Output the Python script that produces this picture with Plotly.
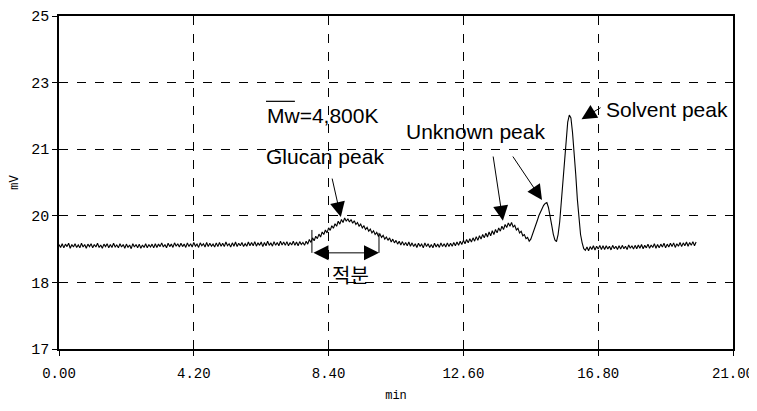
import numpy as np
import plotly.graph_objects as go

# ---- data ----
t_start = 0.0
t_step = 0.05  # min between samples

signal_mv = [
    # 0-1 min
    19.51,19.44,19.53,19.43,19.52,19.46,19.54,19.42,19.51,19.45,19.53,19.44,19.50,19.43,19.54,19.45,19.51,19.42,19.52,19.46,
    # 1-2
    19.53,19.43,19.51,19.45,19.54,19.44,19.50,19.42,19.52,19.46,19.53,19.43,19.51,19.44,19.54,19.45,19.50,19.43,19.53,19.45,
    # 2-3
    19.51,19.42,19.52,19.44,19.50,19.41,19.53,19.45,19.51,19.43,19.52,19.42,19.50,19.44,19.53,19.43,19.51,19.45,19.52,19.43,
    # 3-4
    19.53,19.44,19.52,19.46,19.55,19.45,19.51,19.43,19.54,19.46,19.52,19.44,19.55,19.47,19.53,19.45,19.54,19.46,19.52,19.44,
    # 4-5
    19.55,19.46,19.53,19.45,19.56,19.47,19.52,19.44,19.55,19.48,19.53,19.45,19.56,19.46,19.54,19.47,19.52,19.45,19.55,19.46,
    # 5-6
    19.56,19.47,19.54,19.46,19.57,19.48,19.53,19.45,19.55,19.47,19.57,19.46,19.54,19.48,19.56,19.46,19.53,19.47,19.57,19.48,
    # 6-7
    19.56,19.48,19.58,19.47,19.55,19.49,19.57,19.46,19.56,19.48,19.59,19.49,19.55,19.47,19.58,19.49,19.56,19.48,19.59,19.50,
    # 7-8
    19.57,19.49,19.58,19.48,19.56,19.50,19.59,19.49,19.57,19.48,19.58,19.51,19.56,19.49,19.59,19.52,19.63,19.56,19.67,19.60,
    # 8-9 (glucan peak)
    19.71,19.65,19.76,19.69,19.81,19.75,19.86,19.79,19.91,19.85,19.96,19.90,20.01,19.95,20.07,20.00,20.11,20.04,20.15,20.07,
    # 9-10
    20.13,20.05,20.11,20.02,20.08,19.99,20.04,19.95,20.00,19.91,19.96,19.87,19.92,19.83,19.88,19.79,19.84,19.75,19.80,19.71,
    # 10-11
    19.76,19.68,19.73,19.64,19.69,19.61,19.67,19.57,19.64,19.55,19.61,19.52,19.59,19.50,19.58,19.49,19.56,19.48,19.57,19.47,
    # 11-12
    19.55,19.46,19.53,19.44,19.54,19.47,19.52,19.43,19.55,19.46,19.53,19.44,19.51,19.43,19.54,19.45,19.52,19.44,19.55,19.46,
    # 12-13
    19.53,19.45,19.55,19.46,19.54,19.47,19.56,19.48,19.57,19.49,19.59,19.51,19.61,19.53,19.63,19.55,19.65,19.57,19.67,19.59,
    # 13-14
    19.70,19.61,19.72,19.64,19.75,19.67,19.78,19.69,19.81,19.72,19.84,19.75,19.87,19.79,19.91,19.83,19.95,19.87,19.99,19.92,
    # 14-15 (unknown peaks)
    20.03,19.95,20.04,19.93,19.97,19.86,19.90,19.79,19.83,19.72,19.75,19.65,19.68,19.59,19.64,19.74,19.86,19.97,20.08,20.20,
    # 15-16 (solvent peak)
    20.30,20.38,20.45,20.50,20.52,20.40,20.22,19.98,19.76,19.62,19.58,19.75,20.05,20.50,21.00,21.55,22.05,22.45,22.62,22.55,
    # 16-17
    22.20,21.78,21.20,20.60,20.10,19.75,19.55,19.41,19.37,19.45,19.36,19.46,19.39,19.48,19.38,19.47,19.40,19.49,19.39,19.48,
    # 17-18
    19.39,19.48,19.40,19.47,19.38,19.49,19.41,19.47,19.39,19.48,19.40,19.49,19.41,19.47,19.39,19.50,19.42,19.48,19.40,19.49,
    # 18-19
    19.41,19.50,19.42,19.51,19.41,19.49,19.43,19.52,19.42,19.50,19.44,19.53,19.42,19.51,19.43,19.52,19.45,19.54,19.43,19.52,
    # 19-19.85
    19.45,19.54,19.46,19.55,19.44,19.53,19.47,19.56,19.46,19.55,19.48,19.57,19.47,19.56,19.49,19.58,19.48,19.57,
]

x_tick_vals = [0.0, 4.2, 8.4, 12.6, 16.8, 21.0]
x_tick_text = ["0.00", "4.20", "8.40", "12.60", "16.80", "21.00"]
y_tick_vals = [17.0, 18.6, 20.2, 21.8, 23.4, 25.0]
y_tick_text = ["17", "18", "20", "21", "23", "25"]

time_min = t_start + t_step * np.arange(len(signal_mv))

# ---- figure ----
fig = go.Figure()
fig.add_trace(go.Scatter(
    x=time_min, y=signal_mv, mode="lines",
    line=dict(color="black", width=1.1), hoverinfo="skip", showlegend=False,
))

TXT = dict(family="Liberation Sans, Arial, sans-serif", size=21, color="black")
MONO_Y = dict(family="Liberation Mono, Courier New, monospace", size=15, color="black")
MONO_X = dict(family="Liberation Mono, Courier New, monospace", size=14, color="black")

ann = []
# text labels
ann.append(dict(x=6.42, y=22.6, text="Mw=4,800K", showarrow=False,
                xanchor="left", yanchor="middle", font=TXT))
ann.append(dict(x=6.40, y=21.62, text="Glucan peak", showarrow=False,
                xanchor="left", yanchor="middle", font=TXT))
ann.append(dict(x=10.75, y=22.22, text="Unknown peak", showarrow=False,
                xanchor="left", yanchor="middle", font=TXT))
ann.append(dict(x=16.98, y=22.76, text="Solvent peak", showarrow=False,
                xanchor="left", yanchor="middle", font=TXT))
ann.append(dict(x=9.09, y=18.78, text="적분", showarrow=False,
                xanchor="center", yanchor="middle",
                font=dict(family="Noto Sans CJK KR", size=20, color="black")))

ARROW = dict(showarrow=True, text="", arrowhead=2, arrowsize=3, arrowwidth=1,
             arrowcolor="black", axref="x", ayref="y", xref="x", yref="y",
             standoff=0, startstandoff=0)
# glucan arrow
ann.append(dict(x=8.78, y=20.17, ax=8.50, ay=21.13, **ARROW))
# unknown arrows
ann.append(dict(x=13.83, y=20.08, ax=13.52, ay=21.66, **ARROW))
ann.append(dict(x=15.05, y=20.58, ax=14.11, ay=21.66, **ARROW))
# solvent arrow
ann.append(dict(x=16.28, y=22.52, ax=16.92, ay=22.82, **ARROW))
# integration double arrow
ann.append(dict(x=9.97, y=19.31, ax=7.88, ay=19.31, arrowside="end+start",
                startarrowhead=2, startarrowsize=3, **ARROW))

fig.update_layout(annotations=ann)

# overline on "Mw" and integration limit bars
fig.add_shape(type="line", x0=6.45, x1=7.35, y0=22.95, y1=22.95,
              line=dict(color="black", width=1.2))
fig.add_shape(type="line", x0=7.88, x1=7.88, y0=19.31, y1=19.86,
              line=dict(color="black", width=1))
fig.add_shape(type="line", x0=9.97, x1=9.97, y0=19.31, y1=19.79,
              line=dict(color="black", width=1))

GRID = dict(showgrid=True, gridcolor="black", gridwidth=1, griddash="dash",
            showline=True, linecolor="black", linewidth=1.5, mirror=True,
            ticks="outside", ticklen=5, tickcolor="black", zeroline=False,
            automargin=False)

fig.update_xaxes(range=[0, 21], tickvals=x_tick_vals, ticktext=x_tick_text,
                 ticklabeloverflow="allow", tickfont=MONO_X,
                 title=dict(text="min", font=dict(family="Liberation Mono, monospace", size=12, color="black"), standoff=10),
                 ticklabelstandoff=5, **GRID)
fig.update_yaxes(range=[17, 25], tickvals=y_tick_vals, ticktext=y_tick_text,
                 tickfont=MONO_Y,
                 title=dict(text="mV", font=dict(family="Liberation Mono, monospace", size=12, color="black"), standoff=10),
                 **GRID)

# page body adds an 8px offset; figure reaches the window's right edge
fig.update_layout(
    width=749, height=395,
    margin=dict(l=51, r=24, t=8, b=54),
    paper_bgcolor="white", plot_bgcolor="white",
    showlegend=False,
)

fig.write_html("out.html")
